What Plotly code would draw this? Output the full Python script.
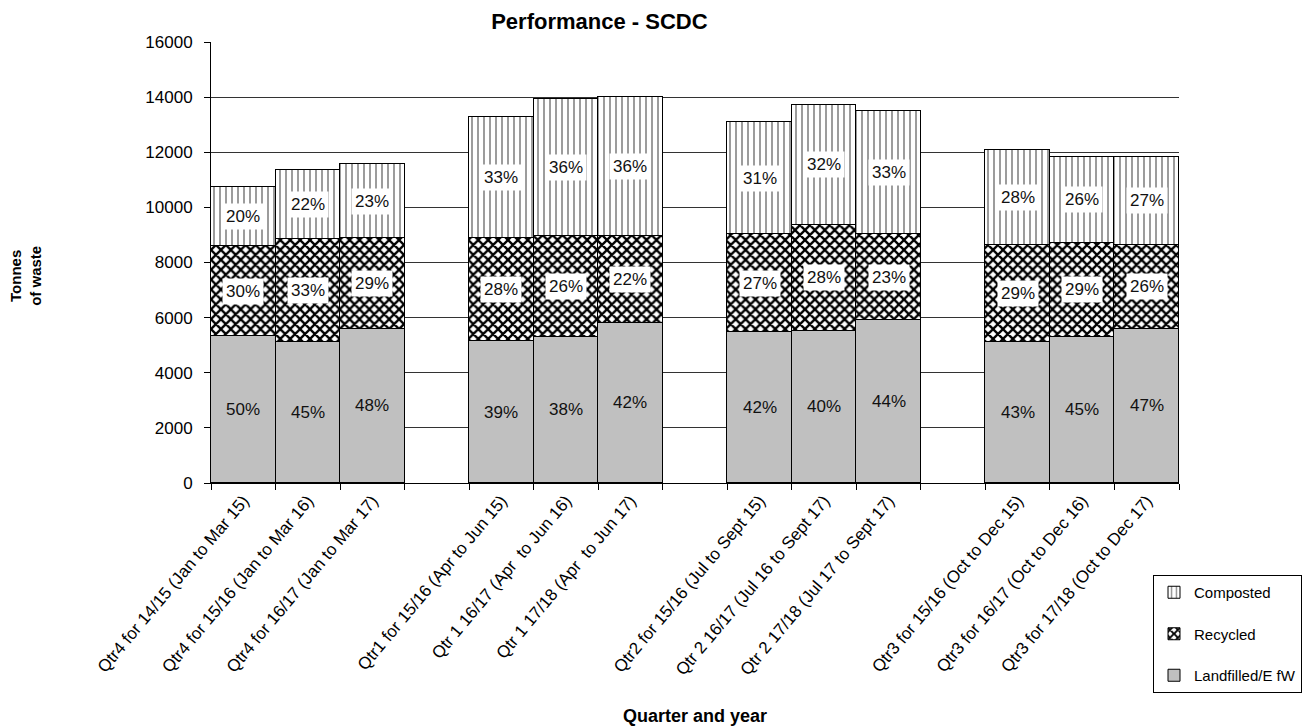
import plotly.graph_objects as go

categories = [
    "Qtr4 for 14/15 (Jan to Mar 15)", "Qtr4 for 15/16 (Jan to Mar 16)", "Qtr4 for 16/17 (Jan to Mar 17)",
    "Qtr1 for 15/16 (Apr to Jun 15)", "Qtr 1 16/17 (Apr  to Jun 16)", "Qtr 1 17/18 (Apr  to Jun 17)",
    "Qtr2 for 15/16 (Jul to Sept 15)", "Qtr 2 16/17 (Jul 16 to Sept 17)", "Qtr 2 17/18 (Jul 17 to Sept 17)",
    "Qtr3 for 15/16 (Oct to Dec 15)", "Qtr3 for 16/17 (Oct to Dec 16)", "Qtr3 for 17/18 (Oct to Dec 17)",
]
landfill = [5330, 5120, 5590, 5150, 5300, 5810, 5480, 5520, 5910, 5120, 5300, 5590]
recycled = [3270, 3730, 3300, 3740, 3660, 3150, 3550, 3840, 3120, 3520, 3410, 3050]
composted = [2140, 2510, 2680, 4390, 4970, 5040, 4070, 4360, 4470, 3440, 3120, 3190]

landfill_pct = ["50%", "45%", "48%", "39%", "38%", "42%", "42%", "40%", "44%", "43%", "45%", "47%"]
recycled_pct = ["30%", "33%", "29%", "28%", "26%", "22%", "27%", "28%", "23%", "29%", "29%", "26%"]
composted_pct = ["20%", "22%", "23%", "33%", "36%", "36%", "31%", "32%", "33%", "28%", "26%", "27%"]

# category order with empty gap slots between the quarter groups
order = []
gap_n = 0
for i, c in enumerate(categories):
    order.append(c)
    if i % 3 == 2 and i < len(categories) - 1:
        gap_n += 1
        order.append("\u200b" * gap_n)

FONT = "Liberation Sans, Arial, sans-serif"
fig = go.Figure()

fig.add_bar(x=categories, y=landfill, name="Landfilled/E fW", legendgroup="c", legendrank=3,
            marker=dict(color="#C0C0C0", line=dict(color="black", width=1)))
fig.add_bar(x=categories, y=recycled, name="Recycled", legendgroup="b", legendrank=2,
            marker=dict(color="white", line=dict(color="black", width=1),
                        pattern=dict(shape="x", fgcolor="black", bgcolor="white", fgopacity=1,
                                     size=7, solidity=0.55)))
fig.add_bar(x=categories, y=composted, name="Composted", legendgroup="a", legendrank=1,
            marker=dict(color="white", line=dict(color="black", width=1),
                        pattern=dict(shape="|", fgcolor="#222", bgcolor="white", size=6, solidity=0.3)))

annotations = []
for i, c in enumerate(categories):
    segs = [(0, landfill[i], landfill_pct[i], None),
            (landfill[i], recycled[i], recycled_pct[i], "white"),
            (landfill[i] + recycled[i], composted[i], composted_pct[i], "white")]
    for base, val, txt, bg in segs:
        ann = dict(x=c, y=base + val / 2, xref="x", yref="y", text=txt, showarrow=False, borderpad=3,
                   font=dict(family=FONT, size=17, color="#111"))
        if bg:
            ann["bgcolor"] = bg
        annotations.append(ann)

annotations.append(dict(text="<b>Quarter and year</b>", xref="paper", yref="paper", x=0.5, y=-0.528,
                        xanchor="center", showarrow=False, yanchor="middle",
                        font=dict(family=FONT, size=18, color="black")))
annotations.append(dict(text="<b>Tonnes<br>of waste</b>", xref="paper", yref="paper", x=-0.191, y=0.47,
                        xanchor="center", yanchor="middle",
                        showarrow=False, textangle=-90, font=dict(family=FONT, size=15, color="black")))

fig.update_layout(
    width=1303, height=726,
    margin=dict(l=211, r=124, t=42, b=243, autoexpand=False),
    paper_bgcolor="white", plot_bgcolor="white",
    barmode="stack", bargap=0,
    font=dict(family=FONT, size=14, color="black"),
    title=dict(text="<b>Performance - SCDC</b>", x=0.46, xanchor="center", y=0.97, yanchor="middle",
               font=dict(family=FONT, size=22, color="black")),
    annotations=annotations,
    legend=dict(xref="container", yref="container", x=1153 / 1303, y=1 - 575 / 726,
                xanchor="left", yanchor="top", traceorder="grouped",
                tracegroupgap=19, bordercolor="black", borderwidth=1, bgcolor="white",
                font=dict(family=FONT, size=15, color="black")),
    showlegend=True,
)
fig.update_xaxes(type="category", categoryorder="array", categoryarray=order, range=[-0.5, len(order) - 0.5],
                 tickson="boundaries", ticks="outside", ticklen=6, tickcolor="black", tickangle=-50,
                 showline=True, linecolor="black", linewidth=1, showgrid=False, automargin=False,
                 tickfont=dict(family=FONT, size=17, color="black"))
fig.update_yaxes(range=[0, 16000], dtick=2000, tickformat="d", showgrid=True, gridcolor="#333", gridwidth=1,
                 ticks="outside", ticklen=6, tickcolor="black", showline=True, linecolor="black", linewidth=1,
                 zeroline=False, ticklabelstandoff=8, automargin=False,
                 tickfont=dict(family=FONT, size=17, color="black"))

fig.write_html("out.html", config={"displayModeBar": False},
               post_script="document.body.style.margin='0';")
